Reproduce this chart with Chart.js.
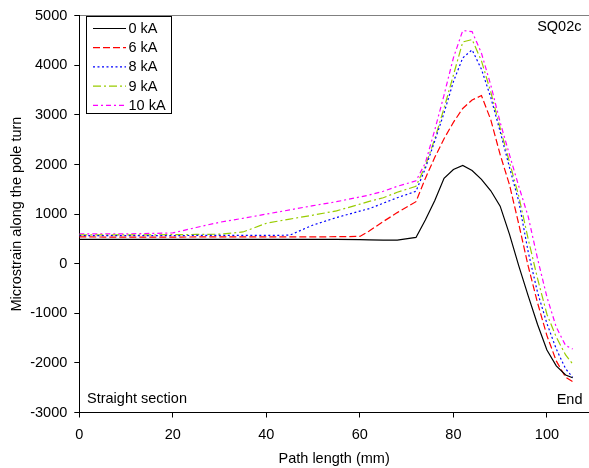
<!DOCTYPE html>
<html>
<head>
<meta charset="utf-8">
<script src="https://cdn.jsdelivr.net/npm/chart.js@4.4.1/dist/chart.umd.min.js"></script>
<style>
    html, body { margin: 0; padding: 0; background: #fff; }
    canvas { display: block; }
</style>
</head>
<body>
<canvas id="strainChart" width="589" height="468"></canvas>
<script>
// Path length (mm) where values were read
const pathLength = [0, 10, 20, 25, 30, 35, 40, 45, 50, 55, 60, 62, 65, 68, 72, 74, 76, 78, 80, 82, 84, 86, 88, 90, 92, 94, 96, 98, 100, 102, 104, 105.5];

// Microstrain for each current
const strain0kA  = [490, 490, 490, 490, 490, 490, 490, 490, 490, 490, 485, 480, 475, 475, 530, 880, 1270, 1720, 1900, 1980, 1880, 1700, 1470, 1160, 590, -50, -650, -1225, -1740, -2060, -2245, -2300];
const strain6kA  = [540, 535, 535, 540, 540, 540, 540, 540, 540, 545, 550, 660, 850, 1030, 1250, 1720, 2140, 2520, 2850, 3130, 3300, 3390, 2900, 2200, 1590, 790, -50, -790, -1450, -1960, -2290, -2375];
const strain8kA  = [565, 565, 565, 570, 570, 570, 570, 575, 780, 930, 1060, 1110, 1220, 1330, 1460, 1920, 2470, 3040, 3670, 4150, 4310, 3920, 3350, 2665, 1940, 1250, 235, -580, -1205, -1720, -2120, -2290];
const strain9kA  = [580, 580, 585, 590, 595, 640, 815, 900, 980, 1065, 1200, 1255, 1330, 1440, 1560, 1970, 2510, 3135, 3800, 4470, 4520, 4090, 3460, 2740, 2045, 1355, 495, -300, -1018, -1480, -1840, -2020];
const strain10kA = [600, 600, 620, 730, 835, 915, 1000, 1085, 1170, 1250, 1345, 1385, 1460, 1560, 1670, 2030, 2690, 3400, 4150, 4700, 4680, 4245, 3600, 2850, 2195, 1555, 950, 100, -670, -1280, -1650, -1720];

const seriesLabels = ['0 kA', '6 kA', '8 kA', '9 kA', '10 kA'];
const xTicks = [0, 20, 40, 60, 80, 100];

const COLORS = ['#000000', '#ff0000', '#0000ff', '#99cc00', '#ff00ff'];
const DASHES = [[], [7, 3], [2, 2.5], [8, 3, 2, 3], [5, 3, 2, 3]];
const FONT = 'Liberation Sans, Arial, sans-serif';

Chart.defaults.font.family = FONT;
Chart.defaults.font.size = 14.5;
Chart.defaults.color = '#000';

function toPoints(values) {
    return pathLength.map((x, i) => ({ x: x, y: values[i] }));
}

// Legend box and text notes drawn on top of the plot
const notesPlugin = {
    id: 'notes',
    afterDatasetsDraw(chart) {
        const ctx = chart.ctx;
        ctx.save();

        // legend
        ctx.fillStyle = '#fff';
        ctx.fillRect(86.5, 16.5, 85, 97);
        ctx.strokeStyle = '#000';
        ctx.lineWidth = 1;
        ctx.strokeRect(86.5, 16.5, 85, 97);

        ctx.font = '14.5px ' + FONT;
        ctx.textBaseline = 'middle';
        chart.data.datasets.forEach((ds, i) => {
            const y = 28.5 + i * 19.2;
            ctx.strokeStyle = ds.borderColor;
            ctx.lineWidth = ds.borderWidth;
            ctx.setLineDash(ds.borderDash);
            ctx.beginPath();
            ctx.moveTo(93, y);
            ctx.lineTo(126, y);
            ctx.stroke();
            ctx.setLineDash([]);
            ctx.fillStyle = '#000';
            ctx.textAlign = 'left';
            ctx.fillText(ds.label, 128.5, y + 0.5);
        });

        // notes
        ctx.textBaseline = 'alphabetic';
        ctx.textAlign = 'right';
        ctx.fillText('SQ02c', 581.5, 30.5);
        ctx.fillText('End', 582.5, 403.5);
        ctx.textAlign = 'left';
        ctx.fillText('Straight section', 87, 402.5);

        ctx.restore();
    }
};

const datasets = [strain0kA, strain6kA, strain8kA, strain9kA, strain10kA].map((values, i) => ({
    label: seriesLabels[i],
    data: toPoints(values),
    borderColor: COLORS[i],
    backgroundColor: COLORS[i],
    borderWidth: 1.2,
    borderDash: DASHES[i],
    pointRadius: 0,
    tension: 0,
    fill: false
}));

new Chart(document.getElementById('strainChart').getContext('2d'), {
    type: 'line',
    data: { datasets: datasets },
    options: {
        responsive: false,
        animation: false,
        devicePixelRatio: 1,
        layout: { padding: { top: 13, right: 0, left: 0, bottom: 0 } },
        plugins: {
            legend: { display: false },
            tooltip: { enabled: false }
        },
        scales: {
            x: {
                type: 'linear',
                min: 0,
                max: 109,
                afterBuildTicks(scale) {
                    scale.ticks = xTicks.map(v => ({ value: v }));
                },
                afterFit(scale) { scale.height = 55.5; },
                grid: {
                    drawOnChartArea: false,
                    tickColor: '#000',
                    tickLength: 5
                },
                border: { color: '#000', width: 1 },
                ticks: { padding: 9, maxRotation: 0, callback: v => String(v) },
                title: {
                    display: true,
                    text: 'Path length (mm)',
                    padding: { top: 0, bottom: 0 }
                }
            },
            y: {
                min: -3000,
                max: 5000,
                afterFit(scale) { scale.width = 79.3; },
                grid: {
                    color: c => (c.tick && c.tick.value === 5000) ? '#808080' : 'rgba(0,0,0,0)',
                    tickColor: '#000',
                    tickLength: 5
                },
                border: { color: '#000', width: 1 },
                ticks: { stepSize: 1000, padding: 7, callback: v => String(v) },
                title: {
                    display: true,
                    text: 'Microstrain along the pole turn',
                    padding: { top: 8, bottom: 0 }
                }
            }
        }
    },
    plugins: [notesPlugin]
});
</script>
</body>
</html>
